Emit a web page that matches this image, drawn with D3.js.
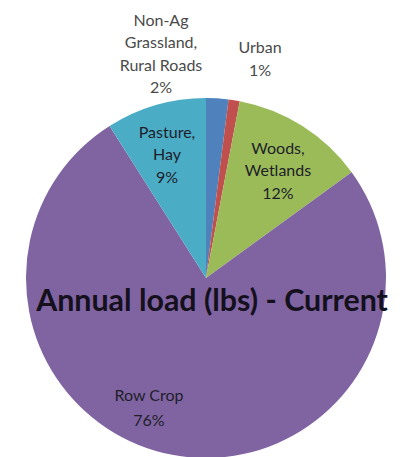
<!DOCTYPE html>
<html>
<head>
<meta charset="utf-8">
<script src="https://cdn.jsdelivr.net/npm/d3@7"></script>
<style>
  html, body { margin: 0; padding: 0; background: #fff; }
  svg { display: block; }
</style>
</head>
<body>
<svg id="chart" width="403" height="457"></svg>
<script>
// ---- Data ----
const categories = ["Non-Ag Grassland, Rural Roads", "Urban", "Woods, Wetlands", "Row Crop", "Pasture, Hay"];
const values = [2, 1, 12, 76, 9];
const labelLines = [
  ["Non-Ag", "Grassland,", "Rural Roads", "2%"],
  ["Urban", "1%"],
  ["Woods,", "Wetlands", "12%"],
  ["Row Crop", "76%"],
  ["Pasture,", "Hay", "9%"]
];
const colors = ["#4f81bd", "#c0504d", "#9bbb59", "#8064a2", "#4bacc6"];
const title = "Annual load (lbs) - Current";

// ---- Layout ----
const cx = 206, cy = 278, R = 180;
const svg = d3.select("#chart");
const g = svg.append("g").attr("transform", `translate(${cx},${cy})`);

const pie = d3.pie().sort(null).value(d => d)(values);
const arc = d3.arc().innerRadius(0).outerRadius(R);

g.selectAll("path.slice")
  .data(pie)
  .join("path")
  .attr("class", "slice")
  .attr("d", arc)
  .attr("fill", (d, i) => colors[i]);

// label centres (first line)
const targets = [
  [161, 20], [260, 47], [278, 148], [149, 395], [167, 132]
];
const lineH = [22.5, 23, 22.5, 25, 22.5];
const fs = 16;

categories.forEach((c, i) => {
  const t = svg.append("text")
    .attr("text-anchor", "middle")
    .attr("font-family", "Lato, 'Open Sans', sans-serif")
    .attr("font-size", fs)
    .attr("fill", i < 2 ? "#4a4a4a" : "#1e1e2a")
    .attr("x", targets[i][0])
    .attr("y", targets[i][1] + fs * 0.36);
  labelLines[i].forEach((ln, j) => {
    t.append("tspan").attr("x", targets[i][0]).attr("dy", j === 0 ? 0 : lineH[i]).text(ln);
  });
});

// Title overlay
const tt = svg.append("text")
  .attr("text-anchor", "middle")
  .attr("font-family", "Lato, 'Open Sans', sans-serif")
  .attr("font-weight", "bold")
  .attr("font-size", 27)
  .attr("fill", "#14101c")
  .attr("x", 212)
  .attr("y", 311)
  .text(title);
const len = tt.node().getComputedTextLength();
tt.attr("font-size", 27 * 352 / len);
</script>
</body>
</html>
